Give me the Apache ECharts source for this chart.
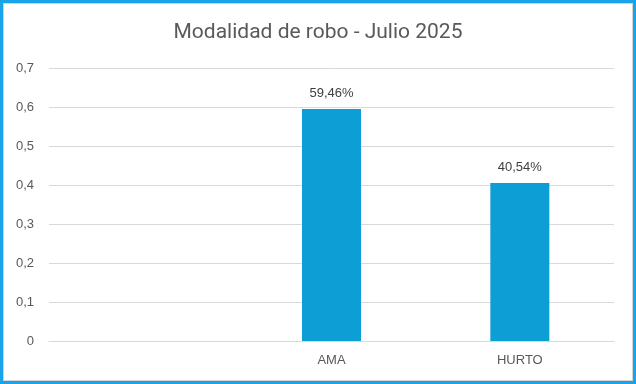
<!DOCTYPE html>
<html>
<head>
<meta charset="utf-8">
<script src="https://cdn.jsdelivr.net/npm/echarts@6/dist/echarts.min.js"></script>
<style>
html,body{margin:0;padding:0;background:#fff;}
#wrap{position:relative;width:636px;height:384px;}
#chart{position:absolute;left:0;top:0;width:636px;height:384px;}
#frame{position:absolute;left:0;top:0;width:636px;height:384px;box-sizing:border-box;border:3px solid #1aa3e8;pointer-events:none;}
#frame2{position:absolute;left:3px;top:3px;width:630px;height:378px;box-sizing:border-box;border:1px solid #d4d4d4;pointer-events:none;}
</style>
</head>
<body>
<div id="wrap"><div id="chart"></div><div id="frame"></div><div id="frame2"></div></div>
<script>
var categories = ['', 'AMA', 'HURTO'];
var values = [null, 0.5946, 0.4054];
var yTicks = { min: 0, max: 0.7, interval: 0.1 };
var titleText = 'Modalidad de robo - Julio 2025';

var chart = echarts.init(document.getElementById('chart'), null, {renderer: 'canvas'});
chart.setOption({
  animation: false,
  backgroundColor: '#ffffff',
  title: {
    text: titleText,
    left: 'center',
    top: 17,
    textStyle: { fontFamily: 'Roboto', fontWeight: 'normal', fontSize: 21, color: '#595959' }
  },
  grid: { left: 49, right: 22, top: 68, bottom: 43 },
  xAxis: {
    type: 'category',
    data: categories,
    axisLine: { lineStyle: { color: '#d9d9d9', width: 1 } },
    axisTick: { show: false },
    axisLabel: { color: '#595959', fontSize: 13, fontFamily: 'Liberation Sans', margin: 13 }
  },
  yAxis: {
    type: 'value',
    min: yTicks.min,
    max: yTicks.max,
    interval: yTicks.interval,
    axisLine: { show: false },
    axisTick: { show: false },
    splitLine: { lineStyle: { color: '#d9d9d9', width: 1 } },
    axisLabel: {
      color: '#595959', fontSize: 13, fontFamily: 'Liberation Sans', margin: 15,
      formatter: function (v) { return v === 0 ? '0' : v.toFixed(1).replace('.', ','); }
    }
  },
  series: [{
    type: 'bar',
    data: values,
    barWidth: 59,
    itemStyle: { color: '#0e9ed6' },
    label: {
      show: true,
      position: 'top',
      distance: 9,
      color: '#404040',
      fontSize: 13,
      fontFamily: 'Liberation Sans',
      formatter: function (p) { return (p.value * 100).toFixed(2).replace('.', ',') + '%'; }
    }
  }]
});
</script>
</body>
</html>
